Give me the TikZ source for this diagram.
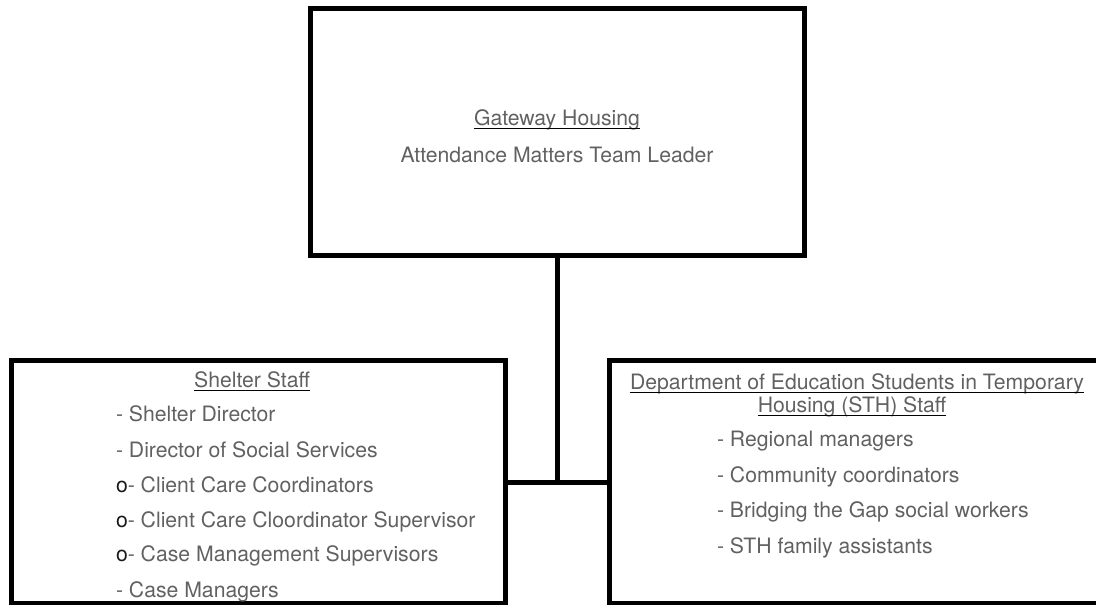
\documentclass[tikz,border=0pt]{standalone}
\usepackage{fontspec}
\setmainfont{TeX Gyre Heros}
\begin{document}
\begin{tikzpicture}[x=1pt,y=-1pt]
\tikzset{
  box/.style={draw=black, line width=5pt, outer sep=0pt, inner sep=0pt},
  conn/.style={line width=5pt},
  txt/.style={inner sep=0pt, outer sep=0pt, anchor=base, text=black!62, font=\fontsize{21.2}{25}\selectfont},
  item/.style={txt, anchor=base west},
  ulline/.style={line width=1.8pt, black}
}
\useasboundingbox (0,0) rectangle (1096,605);
% boxes
\node[box, minimum width=494pt, minimum height=247pt] (top) at (557,131.5) {};
\node[box, minimum width=494pt, minimum height=243pt] (left) at (258,481.5) {};
\node[box, minimum width=511pt, minimum height=243pt] (right) at (864.5,481.5) {};
% connectors
\coordinate (j) at (557,482);
\draw[conn] (top.south) -- (j);
\draw[conn] (left.east |- j) -- (right.west |- j);
% top texts
\node[txt] (gw) at (557,125) {Gateway Housing};
\draw[ulline] ([yshift=-3.5pt]gw.base west) -- ([yshift=-3.5pt]gw.base east);
\node[txt] (am) at (557,162) {Attendance Matters Team Leader};
% left texts
\node[txt] (ss) at (252,387) {Shelter Staff};
\draw[ulline] ([yshift=-3.5pt]ss.base west) -- ([yshift=-3.5pt]ss.base east);
\node[item] (l1) at (116,421) {- Shelter Director};
\node[item] (l2) at (116,457) {- Director of Social Services};
\node[item] (l3) at (116,492) {{\color{black!90}o}- Client Care Coordinators};
\node[item] (l4) at (116,527) {{\color{black!90}o}- Client Care Cloordinator Supervisor};
\node[item] (l5) at (116,561) {{\color{black!90}o}- Case Management Supervisors};
\node[item] (l6) at (116,597) {- Case Managers};
% right texts
\node[txt] (d1) at (857,389) {Department of Education Students in Temporary};
\draw[ulline] ([yshift=-3.5pt]d1.base west) -- ([yshift=-3.5pt]d1.base east);
\node[txt] (d2) at (852,412) {Housing (STH) Staff};
\draw[ulline] ([yshift=-3.5pt]d2.base west) -- ([yshift=-3.5pt]d2.base east);
\node[item] (r1) at (717,446) {- Regional managers};
\node[item] (r2) at (717,482) {- Community coordinators};
\node[item] (r3) at (717,517) {- Bridging the Gap social workers};
\node[item] (r4) at (717,553) {- STH family assistants};
\end{tikzpicture}
\end{document}
